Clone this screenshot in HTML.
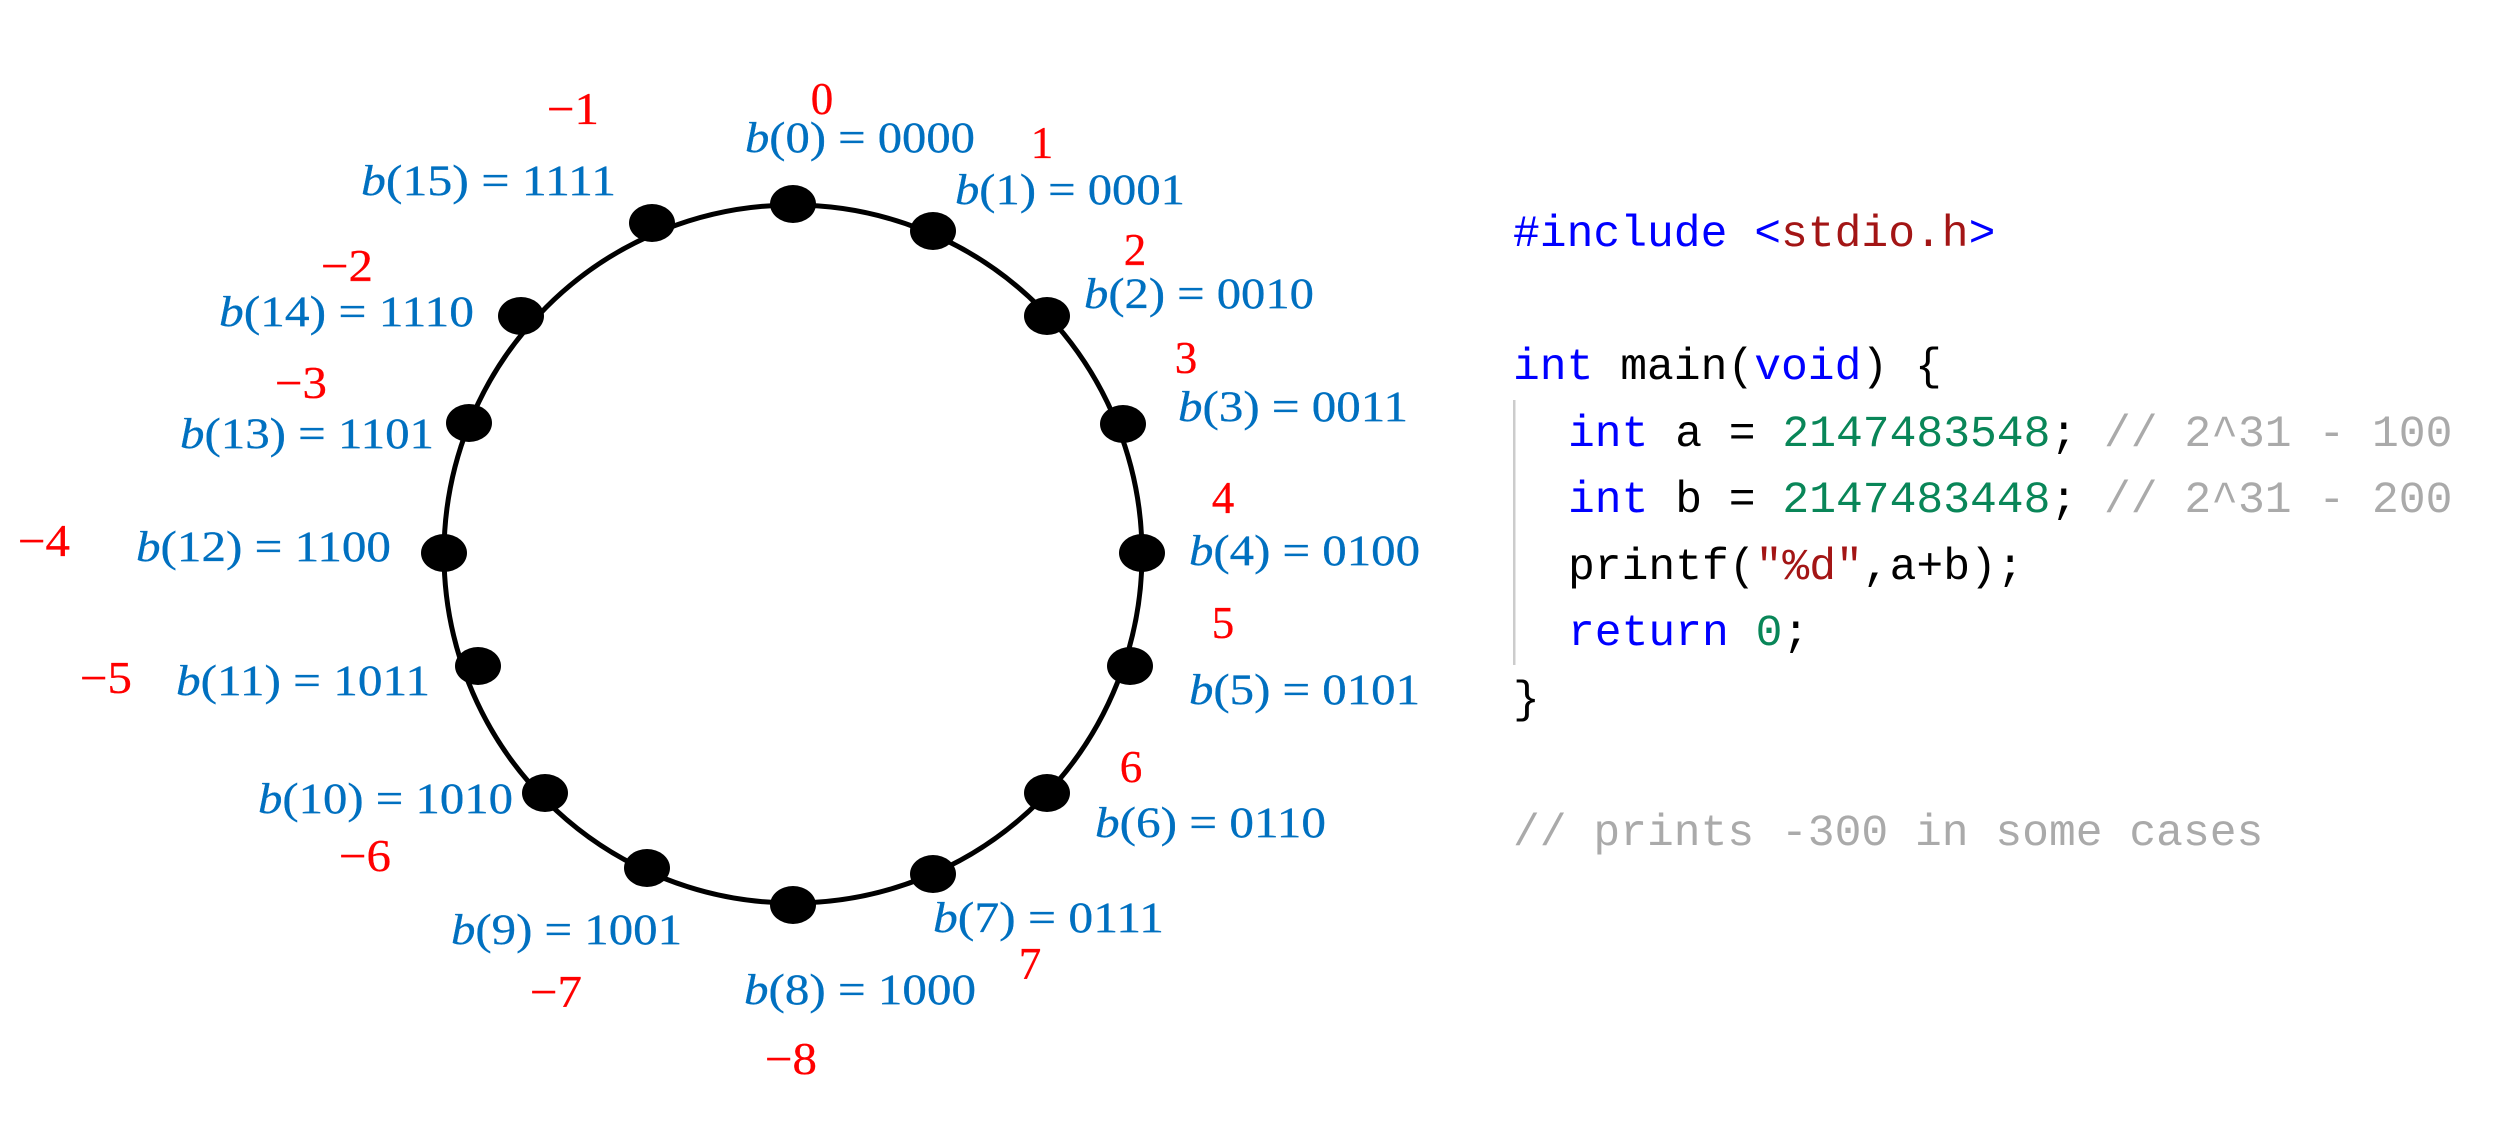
<!DOCTYPE html>
<html><head><meta charset="utf-8"><style>
html,body{margin:0;padding:0;background:#fff;width:2511px;height:1127px;overflow:hidden}
svg{display:block}
.b{font-family:"Liberation Serif",serif;font-size:43px;fill:#0070C0;stroke:#0070C0;stroke-width:.3px}
.b tspan{font-style:italic}
.r{font-family:"Liberation Serif",serif;font-size:45px;fill:#FF0000;stroke:#FF0000;stroke-width:.3px}
.c{font-family:"Liberation Mono",monospace;font-size:44.67px;fill:#000;white-space:pre}
.k{fill:#0000FF}.s{fill:#A31515}.n{fill:#098658}.g{fill:#AAAAAA}
</style></head><body>
<svg width="2511" height="1127" viewBox="0 0 2511 1127" xmlns="http://www.w3.org/2000/svg">
<circle cx="793" cy="554" r="349" fill="none" stroke="#000" stroke-width="5"/>
<g fill="#000">
<ellipse cx="793" cy="204" rx="23" ry="19"/><ellipse cx="933" cy="231" rx="23" ry="19"/>
<ellipse cx="1047" cy="316" rx="23" ry="19"/><ellipse cx="1123" cy="424" rx="23" ry="19"/>
<ellipse cx="1142" cy="553" rx="23" ry="19"/><ellipse cx="1130" cy="666" rx="23" ry="19"/>
<ellipse cx="1047" cy="793" rx="23" ry="19"/><ellipse cx="933" cy="874" rx="23" ry="19"/>
<ellipse cx="793" cy="905" rx="23" ry="19"/><ellipse cx="647" cy="868" rx="23" ry="19"/>
<ellipse cx="545" cy="793" rx="23" ry="19"/><ellipse cx="478" cy="666" rx="23" ry="19"/>
<ellipse cx="444" cy="553" rx="23" ry="19"/><ellipse cx="469" cy="423" rx="23" ry="19"/>
<ellipse cx="521" cy="316" rx="23" ry="19"/><ellipse cx="652" cy="223" rx="23" ry="19"/>
</g>
<g class="b">
<text x="745" y="152" textLength="230" lengthAdjust="spacingAndGlyphs"><tspan>b</tspan>(0) = 0000</text>
<text x="955" y="204" textLength="230" lengthAdjust="spacingAndGlyphs"><tspan>b</tspan>(1) = 0001</text>
<text x="1084" y="308" textLength="230" lengthAdjust="spacingAndGlyphs"><tspan>b</tspan>(2) = 0010</text>
<text x="1178" y="421" textLength="230" lengthAdjust="spacingAndGlyphs"><tspan>b</tspan>(3) = 0011</text>
<text x="1189" y="565" textLength="231" lengthAdjust="spacingAndGlyphs"><tspan>b</tspan>(4) = 0100</text>
<text x="1189" y="704" textLength="231" lengthAdjust="spacingAndGlyphs"><tspan>b</tspan>(5) = 0101</text>
<text x="1095" y="837" textLength="231" lengthAdjust="spacingAndGlyphs"><tspan>b</tspan>(6) = 0110</text>
<text x="933" y="932" textLength="231" lengthAdjust="spacingAndGlyphs"><tspan>b</tspan>(7) = 0111</text>
<text x="744" y="1004" textLength="232" lengthAdjust="spacingAndGlyphs"><tspan>b</tspan>(8) = 1000</text>
<text x="451" y="944" textLength="231" lengthAdjust="spacingAndGlyphs"><tspan>b</tspan>(9) = 1001</text>
<text x="258" y="813" textLength="255" lengthAdjust="spacingAndGlyphs"><tspan>b</tspan>(10) = 1010</text>
<text x="176" y="695" textLength="254" lengthAdjust="spacingAndGlyphs"><tspan>b</tspan>(11) = 1011</text>
<text x="136" y="561" textLength="255" lengthAdjust="spacingAndGlyphs"><tspan>b</tspan>(12) = 1100</text>
<text x="180" y="448" textLength="254" lengthAdjust="spacingAndGlyphs"><tspan>b</tspan>(13) = 1101</text>
<text x="219" y="326" textLength="255" lengthAdjust="spacingAndGlyphs"><tspan>b</tspan>(14) = 1110</text>
<text x="361" y="195" textLength="255" lengthAdjust="spacingAndGlyphs"><tspan>b</tspan>(15) = 1111</text>
</g>
<g class="r" text-anchor="middle">
<text x="822" y="114">0</text><text x="1042" y="158">1</text><text x="1135" y="265">2</text>
<text x="1186" y="373">3</text><text x="1223" y="513">4</text><text x="1223" y="638">5</text>
<text x="1131" y="782">6</text><text x="1030" y="979">7</text>
</g>
<g class="r">
<text x="547" y="124" textLength="52" lengthAdjust="spacingAndGlyphs">−1</text>
<text x="321" y="281" textLength="52" lengthAdjust="spacingAndGlyphs">−2</text>
<text x="275" y="398" textLength="52" lengthAdjust="spacingAndGlyphs">−3</text>
<text x="18" y="556" textLength="52" lengthAdjust="spacingAndGlyphs">−4</text>
<text x="80" y="693" textLength="52" lengthAdjust="spacingAndGlyphs">−5</text>
<text x="339" y="871" textLength="52" lengthAdjust="spacingAndGlyphs">−6</text>
<text x="530" y="1007" textLength="52" lengthAdjust="spacingAndGlyphs">−7</text>
<text x="765" y="1074" textLength="52" lengthAdjust="spacingAndGlyphs">−8</text>
</g>
<rect x="1513" y="400" width="2.5" height="265" fill="#CCCCCC"/>
<g class="c" xml:space="preserve">
<text x="1513" y="246"><tspan class="k">#include </tspan><tspan class="k">&lt;</tspan><tspan class="s">stdio.h</tspan><tspan class="k">&gt;</tspan></text>
<text x="1513" y="379"><tspan class="k">int</tspan> main(<tspan class="k">void</tspan>) {</text>
<text x="1568" y="446"><tspan class="k">int</tspan> a = <tspan class="n">2147483548</tspan>; <tspan class="g">// 2^31 - 100</tspan></text>
<text x="1568" y="512"><tspan class="k">int</tspan> b = <tspan class="n">2147483448</tspan>; <tspan class="g">// 2^31 - 200</tspan></text>
<text x="1568" y="579">printf(<tspan class="s">"%d"</tspan>,a+b);</text>
<text x="1568" y="645"><tspan class="k">return</tspan> <tspan class="n">0</tspan>;</text>
<text x="1513" y="712">}</text>
<text x="1513" y="845" class="g">// prints -300 in some cases</text>
</g>
</svg>
</body></html>
